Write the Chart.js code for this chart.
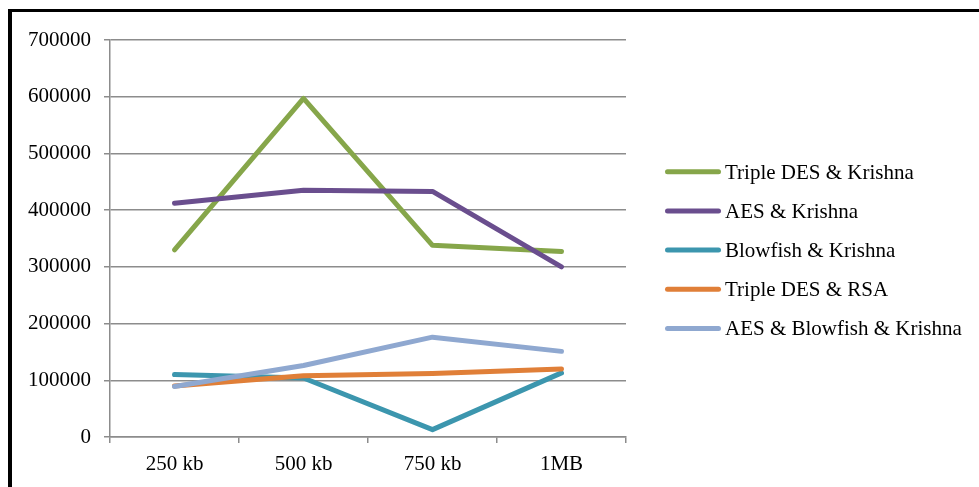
<!DOCTYPE html>
<html>
<head>
<meta charset="utf-8">
<script src="https://cdn.jsdelivr.net/npm/chart.js@4"></script>
<style>
  html, body { margin: 0; padding: 0; background: #fff; overflow: hidden; }
  #wrap { position: relative; width: 979px; height: 487px; }
  #c { position: absolute; left: 0; top: 0; }
  #frame { position: absolute; left: 8px; top: 9px; width: 1000px; height: 500px;
           border-top: 3px solid #000; border-left: 4px solid #000; box-sizing: border-box; pointer-events: none; }
</style>
</head>
<body>
<div id="wrap">
  <canvas id="c" width="979" height="487" style="width:979px;height:487px"></canvas>
  <div id="frame"></div>
</div>
<script>
const categories = ["250 kb", "500 kb", "750 kb", "1MB"];
const seriesNames = ["Triple DES & Krishna", "AES & Krishna", "Blowfish & Krishna", "Triple DES & RSA", "AES & Blowfish & Krishna"];
const tripleDesKrishna = [330000, 597000, 338000, 327000];
const aesKrishna = [412000, 435000, 433000, 300000];
const blowfishKrishna = [110000, 104000, 13000, 113000];
const tripleDesRsa = [90000, 108000, 112000, 120000];
const aesBlowfishKrishna = [89000, 126000, 176000, 151000];
const seriesColors = ["#86a64a", "#6a4e8e", "#3c96ae", "#e07f38", "#8fa8d0"];
const yTicks = [0, 100000, 200000, 300000, 400000, 500000, 600000, 700000];

const seriesValues = [tripleDesKrishna, aesKrishna, blowfishKrishna, tripleDesRsa, aesBlowfishKrishna];
const FONT = "'Liberation Serif', 'Times New Roman', serif";
const GRID = "#8c8c8c";

const legendPlugin = {
  id: 'sideLegend',
  afterDraw(chart) {
    const ctx = chart.ctx;
    ctx.save();
    const x0 = 667.5, x1 = 718.5, textX = 725;
    const y0 = 171.7, dy = 39.2;
    chart.data.datasets.forEach((ds, i) => {
      const y = y0 + i * dy;
      ctx.strokeStyle = ds.borderColor;
      ctx.lineWidth = 5;
      ctx.lineCap = 'round';
      ctx.beginPath();
      ctx.moveTo(x0, y);
      ctx.lineTo(x1, y);
      ctx.stroke();
      ctx.fillStyle = '#000';
      ctx.font = "21px " + FONT;
      ctx.textBaseline = 'alphabetic';
      ctx.textAlign = 'left';
      ctx.fillText(ds.label, textX, y + 6.8);
    });
    ctx.restore();
  }
};

const datasets = seriesNames.map((name, i) => ({
  label: name,
  data: seriesValues[i],
  borderColor: seriesColors[i],
  backgroundColor: seriesColors[i],
  borderWidth: 5,
  borderCapStyle: 'round',
  borderJoinStyle: 'round',
  pointRadius: 0,
  pointHoverRadius: 0,
  tension: 0,
  fill: false,
  order: seriesNames.length - i
}));

new Chart(document.getElementById('c'), {
  type: 'line',
  data: { labels: categories, datasets: datasets },
  options: {
    responsive: false,
    animation: false,
    devicePixelRatio: 1,
    layout: { padding: { left: 0, top: 40, right: 353, bottom: 0 } },
    plugins: { legend: { display: false }, tooltip: { enabled: false } },
    scales: {
      x: {
        type: 'category',
        offset: true,
        grid: { offset: true, drawOnChartArea: false, drawTicks: true, tickLength: 6, color: GRID, lineWidth: 1.5 },
        border: { display: true, color: GRID, width: 1.5 },
        ticks: { color: '#000', font: { family: FONT, size: 21 }, padding: 9, maxRotation: 0, autoSkip: false },
        afterFit(s) { s.height = 50; }
      },
      y: {
        min: 0,
        max: 700000,
        afterBuildTicks(s) { s.ticks = yTicks.map(v => ({ value: v })); },
        grid: { drawTicks: true, tickLength: 6, color: GRID, lineWidth: 1.5 },
        border: { display: true, color: GRID, width: 1.5 },
        ticks: { color: '#000', font: { family: FONT, size: 21 }, padding: 13, callback: v => String(v) },
        afterFit(s) { s.width = 110; }
      }
    }
  },
  plugins: [legendPlugin]
});
</script>
</body>
</html>
